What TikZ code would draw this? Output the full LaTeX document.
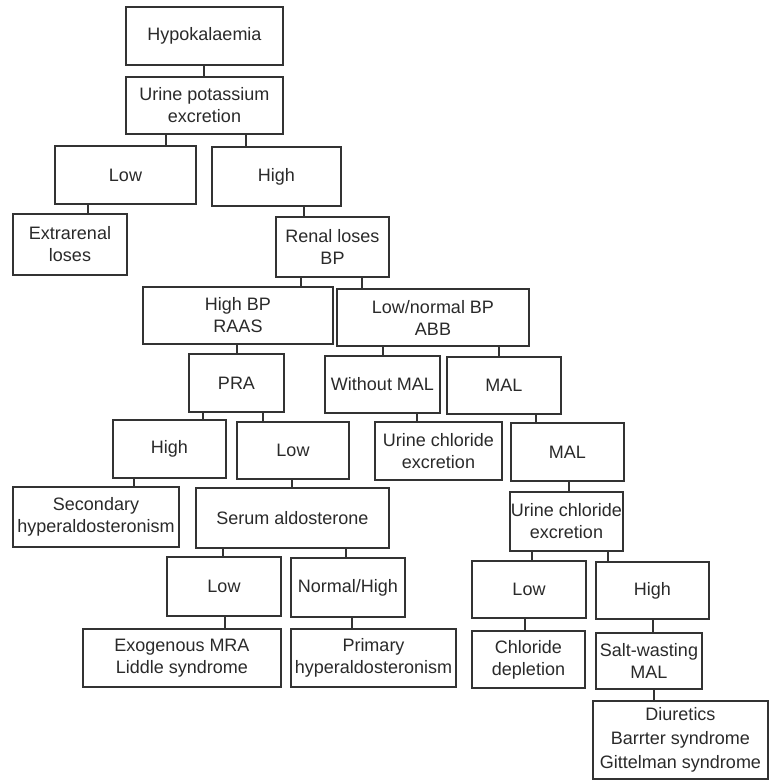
\documentclass[tikz,border=0pt]{standalone}
\usepackage{fontspec}
\setmainfont{Liberation Sans}
\definecolor{ink}{HTML}{2A2A2A}
\definecolor{edge}{HTML}{333333}
\tikzset{
  bx/.style={draw=edge, line width=1.1pt, rectangle, inner sep=0pt, outer sep=0pt,
    align=center, text=ink, font=\fontsize{18}{22}\selectfont},
  conn/.style={draw=edge, line width=1.1pt}
}
\newcommand\bx[6]{\node[bx, minimum width={#4-#2}, minimum height={#5-#3}] (#1) at ({(#2+#4)/2},{(#3+#5)/2}) {#6};}
\newcommand\lnk[3]{\coordinate (tmp) at (#3,0); \draw[conn] (#1.south -| tmp) -- (#2.north -| tmp);}
\begin{document}
\begin{tikzpicture}[x=1pt,y=-1pt]
\useasboundingbox[fill=white] (0,0) rectangle (769,780);
\bx{hypo}{126}{7}{283}{65}{Hypokalaemia}
\bx{upe}{126}{77}{283}{134}{Urine potassium\\excretion}
\bx{lowa}{55}{146}{196}{204}{Low}
\bx{higha}{212}{147}{341}{206}{High}
\bx{extra}{13}{214}{127}{275}{Extrarenal\\loses}
\bx{renal}{276}{217}{389}{277}{Renal loses\\BP}
\bx{hbp}{143}{287}{333}{344}{High BP\\RAAS}
\bx{lbp}{337}{289}{529}{346}{Low/normal BP\\ABB}
\bx{pra}{189}{354}{284}{412}{PRA}
\bx{wmal}{325}{356}{440}{413}{Without MAL}
\bx{mal}{447}{357}{561}{414}{MAL}
\bx{prah}{113}{420}{226}{478}{High}
\bx{pral}{237}{422}{349}{479}{Low}
\bx{ucea}{375}{422}{502}{480}{Urine chloride\\excretion}
\bx{malb}{511}{423}{624}{481}{MAL}
\bx{sec}{13}{487}{179}{547}{Secondary\\hyperaldosteronism}
\bx{serum}{196}{488}{389}{548}{Serum aldosterone}
\bx{uceb}{510}{492}{623}{551}{Urine chloride\\excretion}
\bx{sl}{167}{557}{281}{616}{Low}
\bx{snh}{291}{558}{405}{617}{Normal/High}
\bx{cl}{472}{561}{586}{618}{Low}
\bx{ch}{596}{562}{709}{619}{High}
\bx{exo}{83}{629}{281}{687}{Exogenous MRA\\Liddle syndrome}
\bx{prim}{291}{629}{456}{687}{Primary\\hyperaldosteronism}
\bx{cdep}{472}{631}{585}{688}{Chloride\\depletion}
\bx{salt}{596}{633}{702}{689}{Salt-wasting\\MAL}
\node[bx, minimum width=175pt, minimum height=78pt, font=\fontsize{18}{24}\selectfont] (diur) at (680.5,740) {Diuretics\\Barrter syndrome\\Gittelman syndrome};
\lnk{hypo}{upe}{204}
\lnk{upe}{lowa}{166}
\lnk{upe}{higha}{246}
\lnk{lowa}{extra}{88}
\lnk{higha}{renal}{304}
\lnk{renal}{hbp}{301}
\lnk{renal}{lbp}{362}
\lnk{hbp}{pra}{237}
\lnk{lbp}{wmal}{383}
\lnk{lbp}{mal}{499}
\lnk{pra}{prah}{203}
\lnk{pra}{pral}{263}
\lnk{wmal}{ucea}{417}
\lnk{mal}{malb}{536}
\lnk{prah}{sec}{134}
\lnk{pral}{serum}{292}
\lnk{malb}{uceb}{569}
\lnk{serum}{sl}{223}
\lnk{serum}{snh}{346}
\lnk{uceb}{cl}{532}
\lnk{uceb}{ch}{608}
\lnk{sl}{exo}{225}
\lnk{snh}{prim}{352}
\lnk{cl}{cdep}{525}
\lnk{ch}{salt}{653}
\lnk{salt}{diur}{654}
\end{tikzpicture}
\end{document}
